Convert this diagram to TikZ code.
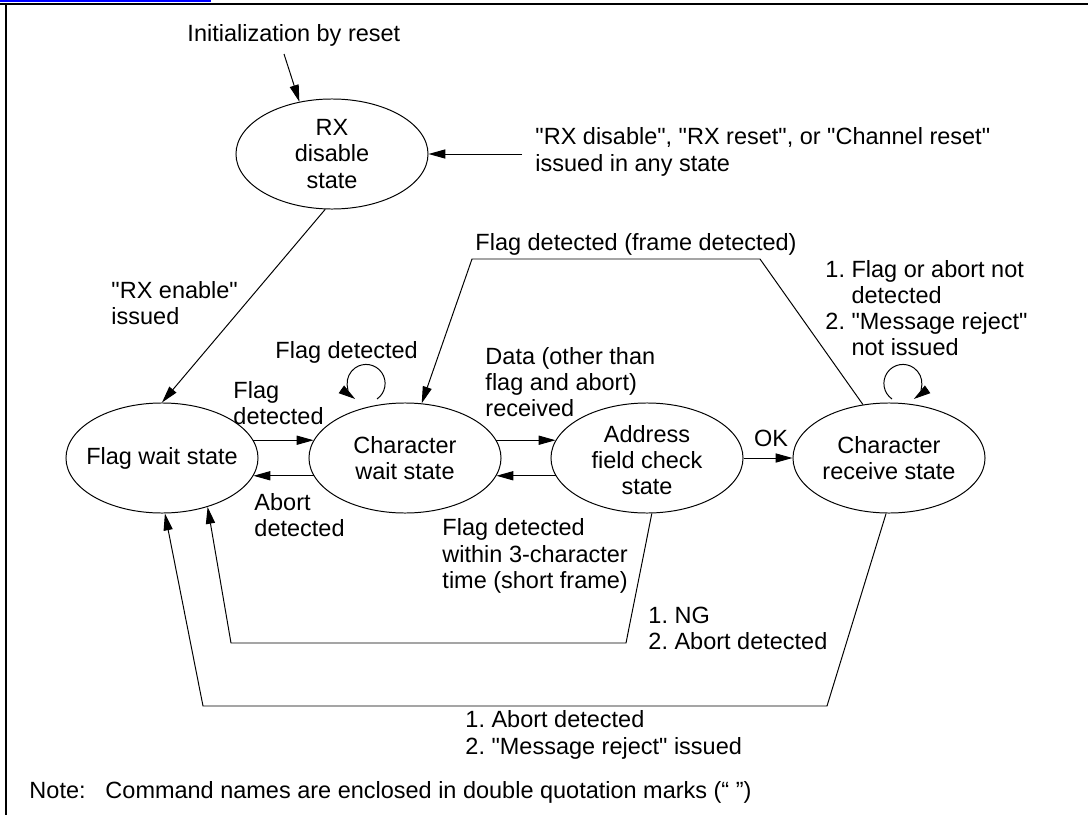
\documentclass[tikz,border=0pt]{standalone}
\usepackage{fontspec}
\setmainfont{Liberation Sans}[Ligatures=TeXOff]
\usetikzlibrary{shapes.geometric, arrows.meta, positioning}
\tikzset{
  arrow/.style = {-{Triangle[length=12pt, width=6.5pt]}, line width=0.7pt},
  lbl/.style   = {inner sep=0pt, align=left, font=\fontsize{16.7}{18.6}\selectfont},
  frame/.style = {line width=1.7pt},
}

\begin{document}
\frenchspacing
\begin{tikzpicture}[x=0.025cm, y=-0.025cm, line width=0.7pt,
  state/.style={ellipse, draw, minimum width=4.8cm, minimum height=2.75cm,
                inner sep=0pt}]
  \useasboundingbox (0,0) rectangle (1088,815);
  % page frame
  \draw[blue, line width=1.4pt] (0,1) -- (211,1);
  \draw[frame] (0,3.8) -- (1088,3.8);
  \draw[frame] (6,3.8) -- (6,815);
  % states
  \node[state, label={[lbl, align=center]center:RX\\disable\\state}] (rxd) at (332,154) {};
  \node[state, label={[lbl, align=center]center:Flag wait state}] (fw) at (162,458) {};
  \node[state, label={[lbl, align=center]center:Character\\wait state}] (cw) at (405,458) {};
  \node[state, label={[lbl, align=center, yshift=-0.06cm]center:Address\\field check\\state}] (af) at (647,458) {};
  \node[state, label={[lbl, align=center]center:Character\\receive state}] (cr) at (889,458) {};
  % labels
  \node[lbl, anchor=base west] (init)   at (187,41)  {Initialization by reset};
  \node[lbl, anchor=west]      (anytxt) at (535,152) {"RX disable", "RX reset", or "Channel reset"\\issued in any state};
  \node[lbl, anchor=west]      (rxen)   at (111,303) {"RX enable"\\issued};
  \node[lbl, anchor=base west] (frame)  at (475,250) {Flag detected (frame detected)};
  \node[lbl, anchor=west]      (flagd)  at (233,403) {Flag\\detected};
  \node[lbl, anchor=base west] (loopw)  at (275,358) {Flag detected};
  \node[lbl, anchor=west]      (data)   at (485,382) {Data (other than\\flag and abort)\\received};
  \node[lbl, anchor=west]      (abrt)   at (254,515) {Abort\\detected};
  \node[lbl, anchor=west]      (short)  at (442,556) {Flag detected\\within 3-character\\time (short frame)};
  \node[lbl, anchor=base]      (ok)     at (771,446) {OK};
  \node[lbl, anchor=west]      (loopr)  at (825,308) {1. Flag or abort not\\\hphantom{1. }detected\\2. "Message reject"\\\hphantom{2. }not issued};
  \node[lbl, anchor=west]      (ng)     at (648,628) {1. NG\\2. Abort detected};
  \node[lbl, anchor=west]      (rej)    at (465,735) {1. Abort detected\\2. "Message reject" issued};
  \node[lbl, anchor=base west] (note)   at (29,798)  {Note:};
  \node[lbl, anchor=base west] (notetx) at (105,798) {Command names are enclosed in double quotation marks (“ ”)};
  % connectors
  \coordinate (initarr) at (284,54);
  \coordinate (anyarr)  at (522,154);
  \coordinate (cwl) at (377,399);
  \coordinate (crl) at (892,399);
  \coordinate (fr1) at (760,259);
  \coordinate (fr2) at (472,259);
  \coordinate (ng1) at (626,643);
  \coordinate (ng2) at (231,643);
  \coordinate (ab1) at (827,706);
  \coordinate (ab2) at (203,706);
  \draw[arrow] (initarr) -- (rxd.122);
  \draw[arrow] (anyarr) -- (rxd.east);
  \draw[arrow] (rxd.-97) -- (fw.north);
  \draw[arrow] (fw.11) -- (cw.169);
  \draw[arrow] (cw.191) -- (fw.-11);
  \draw[arrow] (cw.11) -- (af.169);
  \draw[arrow] (af.191) -- (cw.-11);
  \draw[arrow] (af.east) -- (cr.west);
  \draw[arrow] (cwl) arc[start angle=-55, end angle=235, radius=0.475cm];
  \draw[arrow] (crl) arc[start angle=235, end angle=-55, radius=0.475cm];
  \draw[arrow] (cr.116) -- (fr1) -- (fr2) -- (cw.73);
  \draw[arrow] (af.-85) -- (ng1) -- (ng2) -- (fw.-47);
  \draw[arrow] (cr.-93) -- (ab1) -- (ab2) -- (fw.-87);
\end{tikzpicture}
\end{document}
